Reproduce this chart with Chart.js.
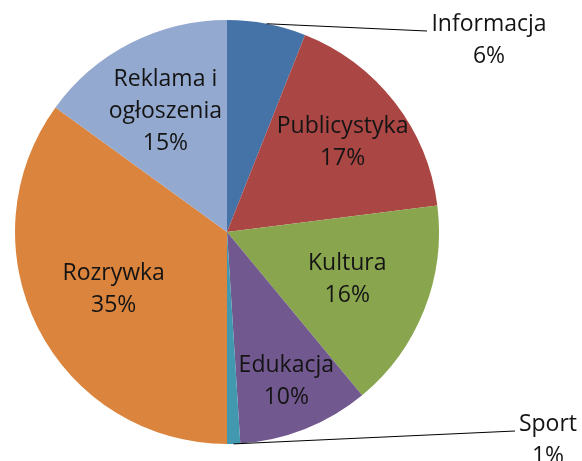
<!DOCTYPE html>
<html lang="pl">
<head>
    <meta charset="UTF-8">
    <title>Struktura programu</title>
    <style>
        body {
            margin: 0;
            background: #fff;
        }
        #wrap {
            width: 582px;
            height: 461px;
        }
    </style>
</head>
<body>
<div id="wrap">
    <canvas id="pieChart" width="582" height="461"></canvas>
</div>

<script src="https://cdn.jsdelivr.net/npm/chart.js"></script>
<script>
    const categories = ['Informacja', 'Publicystyka', 'Kultura', 'Edukacja', 'Sport', 'Rozrywka', 'Reklama i ogłoszenia'];
    const shares = [6, 17, 16, 10, 1, 35, 15];
    const labelLines = [['Informacja'], ['Publicystyka'], ['Kultura'], ['Edukacja'], ['Sport'], ['Rozrywka'], ['Reklama i', 'ogłoszenia']];
    const colors = ['#4572a7', '#aa4643', '#89a54e', '#71588f', '#4198af', '#db843d', '#93a9cf'];

    // where each label sits, as a fraction of the radius (null = outside with leader line)
    const insideRatio = [null, 0.69, 0.61, 0.76, null, 0.6, 0.64];
    const outsideLabel = {
        0: { lineEnd: [427, 31], text: [489, 24] },
        4: { lineEnd: [515, 431], text: [548, 424] }
    };

    const FONT = '23px "Open Sans", sans-serif';
    const LINE_H = 32;

    const labelPlugin = {
        id: 'sliceLabels',
        afterDatasetsDraw(chart) {
            const ctx = chart.ctx;
            const arcs = chart.getDatasetMeta(0).data;
            ctx.save();
            ctx.font = FONT;
            ctx.fillStyle = '#141414';
            ctx.textAlign = 'center';
            ctx.textBaseline = 'middle';
            arcs.forEach((arc, i) => {
                const p = arc.getProps(['x', 'y', 'startAngle', 'endAngle', 'outerRadius']);
                const mid = (p.startAngle + p.endAngle) / 2;
                const lines = labelLines[i].concat([shares[i] + '%']);
                if (insideRatio[i] !== null) {
                    const r = p.outerRadius * insideRatio[i];
                    const cx = p.x + Math.cos(mid) * r;
                    const cy = p.y + Math.sin(mid) * r;
                    const top = cy - (lines.length - 1) * LINE_H / 2;
                    lines.forEach((t, k) => ctx.fillText(t, cx, top + k * LINE_H));
                } else {
                    const o = outsideLabel[i];
                    const sx = p.x + Math.cos(mid) * p.outerRadius;
                    const sy = p.y + Math.sin(mid) * p.outerRadius;
                    ctx.beginPath();
                    ctx.strokeStyle = '#000';
                    ctx.lineWidth = 1;
                    ctx.moveTo(sx, sy);
                    ctx.lineTo(o.lineEnd[0], o.lineEnd[1]);
                    ctx.stroke();
                    lines.forEach((t, k) => ctx.fillText(t, o.text[0], o.text[1] + k * LINE_H));
                }
            });
            ctx.restore();
        }
    };

    new Chart(document.getElementById('pieChart'), {
        type: 'pie',
        data: {
            labels: categories,
            datasets: [{
                data: shares,
                backgroundColor: colors,
                borderWidth: 0
            }]
        },
        options: {
            responsive: false,
            animation: false,
            layout: {
                padding: { top: 20, bottom: 17, left: 15, right: 143 }
            },
            plugins: {
                legend: { display: false },
                tooltip: { enabled: false }
            }
        },
        plugins: [labelPlugin]
    });
</script>
</body>
</html>
